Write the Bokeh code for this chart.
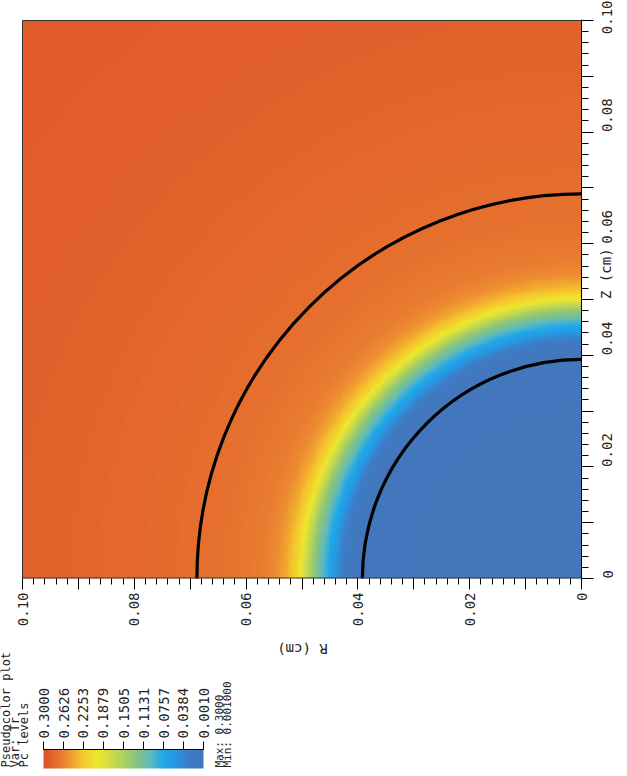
import math
import numpy as np
from bokeh.plotting import figure
from bokeh.layouts import column
from bokeh.models import Range1d, LinearAxis, FixedTicker, LinearColorMapper, CustomJSTickFormatter
from bokeh.core.properties import value
from bokeh.embed import file_html
from bokeh.resources import INLINE

# ---------------- data ----------------
# radial profile of the pseudocolor variable Tr (radius in cm -> value)
profile_radius = [0.0, 0.0405, 0.0425, 0.0440, 0.0452, 0.0466, 0.0480, 0.0494, 0.0508, 0.0525, 0.0544, 0.0574, 0.065, 0.080, 0.100, 0.1415]
profile_value = [0.001, 0.004, 0.020, 0.050, 0.075, 0.105, 0.135, 0.175, 0.215, 0.240, 0.256, 0.268, 0.276, 0.282, 0.287, 0.293]
# contour lines (radius in cm)
contour_radius = [0.0392, 0.0688]
# axis ticks
axis_major_ticks = [0.0, 0.01, 0.02, 0.03, 0.04, 0.05, 0.06, 0.07, 0.08, 0.09, 0.10]
axis_minor_ticks = [round(0.002 * k, 3) for k in range(51)]
x_title = "R (cm)"
y_title = "Z (cm)"
# legend
legend_levels = [0.3000, 0.2626, 0.2253, 0.1879, 0.1505, 0.1131, 0.0757, 0.0384, 0.0010]
legend_level_labels = ["0.3000", "0.2626", "0.2253", "0.1879", "0.1505", "0.1131", "0.0757", "0.0384", "0.0010"]
var_max, var_min = 0.3000, 0.001000
max_label = "Max: 0.3000"
min_label = "Min: 0.001000"
legend_title = ["Pseudocolor plot", "Var: Tr", "Pc levels"]

# colour table stops (value -> rgb)
stop_values = [0.001, 0.030, 0.050, 0.0757, 0.100, 0.130, 0.165, 0.200, 0.230, 0.260, 0.300]
stop_colors = [(68, 118, 188), (60, 126, 200), (40, 150, 225), (30, 168, 235), (95, 185, 190),
               (140, 198, 120), (195, 215, 80), (238, 232, 45), (246, 196, 45), (236, 135, 50), (222, 80, 40)]

FONT = "DejaVu Sans Mono"
TXT = "#222222"
EDGE = "#333333"

# ---------------- colour mapper ----------------
grid_vals = np.linspace(var_min, var_max, 256)
chan = np.array(stop_colors, dtype=float)
palette = []
for t in grid_vals:
    r = int(round(np.interp(t, stop_values, chan[:, 0])))
    g = int(round(np.interp(t, stop_values, chan[:, 1])))
    b = int(round(np.interp(t, stop_values, chan[:, 2])))
    palette.append("#%02x%02x%02x" % (r, g, b))
mapper = LinearColorMapper(palette=palette, low=var_min, high=var_max)

# ---------------- field ----------------
n = 300
cell = 0.1 / n
centers = (np.arange(n) + 0.5) * cell
RR, ZZ = np.meshgrid(centers, centers)
field = np.interp(np.hypot(RR, ZZ), profile_radius, profile_value)

# ---------------- main figure ----------------
# frame starts at the canvas' left edge; a 22 px white band lies left of R = 0.10
PX_W = 559   # pixels for 0.1 cm along R
PX_H = 558   # pixels for 0.1 cm along Z
LEFT_PAD = 22
RIGHT_BORDER = 41
p = figure(frame_width=PX_W + LEFT_PAD, frame_height=PX_H + 1,
           x_range=Range1d(0.10 + 0.10 * LEFT_PAD / PX_W, 0.0),
           y_range=Range1d(0.0, 0.10 + 0.10 / PX_H),
           x_axis_location=None, y_axis_location=None,
           min_border_left=0, min_border_right=RIGHT_BORDER, min_border_top=19, min_border_bottom=62,
           output_backend="svg", toolbar_location=None)
p.grid.visible = False
p.outline_line_color = None
p.background_fill_color = "white"
p.border_fill_color = "white"

p.image(image=[field], x=0.0, y=0.0, dw=0.10, dh=0.10, color_mapper=mapper)
for rad in contour_radius:
    p.circle(x=[0.0], y=[0.0], radius=rad, fill_color=None, line_color="black", line_width=3.2)
# plot edges (left, top, bottom)
p.segment(x0=[0.10, 0.10, 0.10], y0=[0.0, 0.10, 0.0], x1=[0.10, 0.0, 0.0], y1=[0.10, 0.10, 0.0],
          line_color=EDGE, line_width=[1, 1, 2])

fmt_code = """
const v = Math.round(tick * 100);
if (v % 2 != 0) return "";
if (v == 0) return "0";
return tick.toFixed(2);
"""

def style_axis(ax, tick_out, minor_out, standoff):
    ax.ticker = FixedTicker(ticks=axis_major_ticks, minor_ticks=axis_minor_ticks)
    ax.formatter = CustomJSTickFormatter(code=fmt_code)
    ax.major_label_orientation = math.pi / 2
    ax.major_label_text_font = FONT
    ax.major_label_text_font_size = "14px"
    ax.major_label_text_color = TXT
    ax.major_tick_in = 0
    ax.major_tick_out = tick_out
    ax.minor_tick_in = 0
    ax.minor_tick_out = minor_out
    ax.major_tick_line_color = "black"
    ax.minor_tick_line_color = "black"
    ax.axis_line_color = "black"
    ax.major_label_standoff = standoff

xax = LinearAxis()
style_axis(xax, 11, 6, 3)
xax.axis_line_color = None
p.add_layout(xax, "below")

yax = LinearAxis()
style_axis(yax, 12, 7, 14)
yax.axis_label = y_title
yax.axis_label_text_font = FONT
yax.axis_label_text_font_size = "14px"
yax.axis_label_text_font_style = "normal"
yax.axis_label_text_color = TXT
yax.axis_label_standoff = -15
if "axis_label_orientation" in yax.properties():
    yax.axis_label_orientation = math.pi / 2
p.add_layout(yax, "right")

# ---------------- legend figure (coordinates: page x, pixels up from its bottom) ----------------
LH = 132
page_bottom = 640 + LH
lp = figure(frame_width=PX_W + LEFT_PAD, frame_height=LH,
            x_range=Range1d(0, PX_W + LEFT_PAD), y_range=Range1d(0, LH),
            x_axis_location=None, y_axis_location=None,
            min_border_left=0, min_border_top=0, min_border_bottom=0, min_border_right=RIGHT_BORDER,
            output_backend="svg", toolbar_location=None)
lp.grid.visible = False
lp.outline_line_color = None

def ly(page_y):
    return page_bottom - page_y

bar_left, bar_width = 43, 160
bar_top, bar_bot = 749, 768
bar_vals = np.linspace(var_max, var_min, 200)
lp.image(image=[np.array([bar_vals])], x=bar_left, y=ly(bar_bot), dw=bar_width, dh=bar_bot - bar_top,
         color_mapper=mapper)
tick_x = [bar_left + (var_max - lv) / (var_max - var_min) * bar_width for lv in legend_levels]
lp.segment(x0=[bar_left], y0=[ly(bar_top)], x1=[bar_left + bar_width], y1=[ly(bar_top)],
           line_color="black", line_width=1)
lp.segment(x0=tick_x, y0=[ly(bar_top)] * len(tick_x), x1=tick_x, y1=[ly(bar_top - 8)] * len(tick_x),
           line_color="black", line_width=1)
lp.text(x=tick_x, y=[ly(738)] * len(tick_x), text=legend_level_labels, angle=math.pi / 2,
        text_align="left", text_baseline="middle", text_font=value(FONT),
        text_font_size="14px", text_color=TXT)

lp.text(x=[5, 14, 23], y=[ly(767)] * 3, text=legend_title, angle=math.pi / 2,
        text_align="left", text_baseline="middle", text_font=value(FONT),
        text_font_size="12px", text_color=TXT)

lp.text(x=[219, 227], y=[ly(767)] * 2, text=[max_label, min_label], angle=math.pi / 2,
        text_align="left", text_baseline="middle", text_font=value(FONT),
        text_font_size="11px", text_color=TXT)

lp.text(x=[302], y=[ly(648)], text=[x_title], angle=math.pi,
        text_align="center", text_baseline="middle", text_font=value(FONT),
        text_font_size="14px", text_color=TXT)

layout = column(p, lp, spacing=0)
open("out.html", "w").write(file_html(layout, INLINE))
